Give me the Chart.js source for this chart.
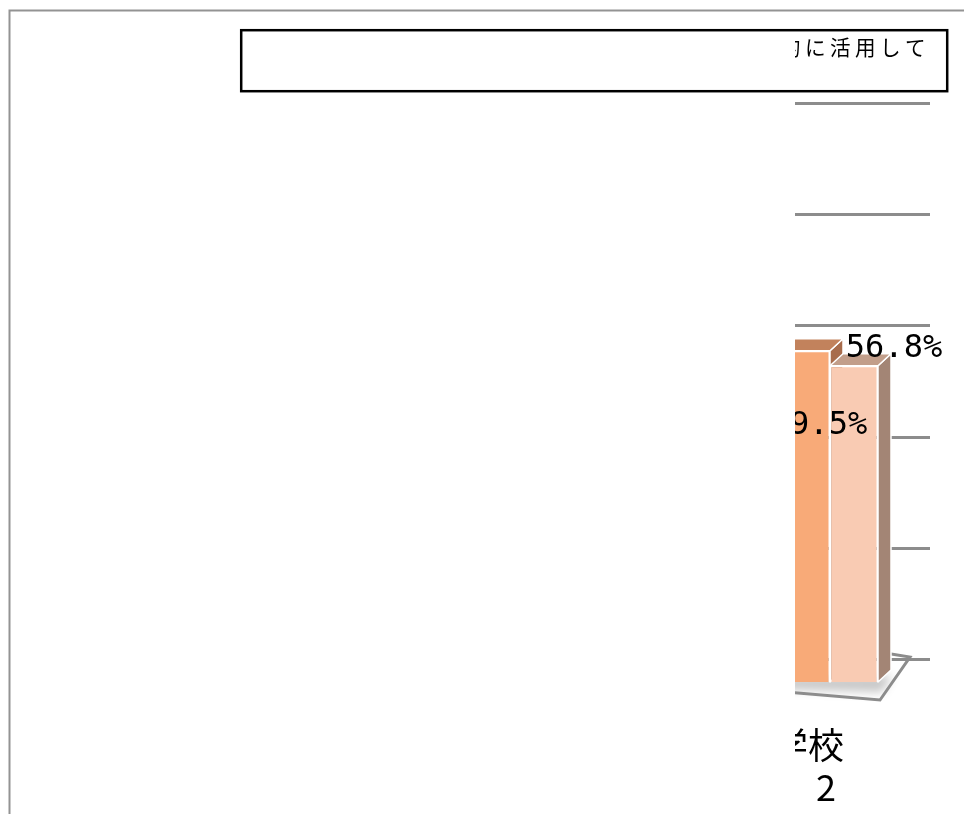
<!DOCTYPE html>
<html><head><meta charset="utf-8">
<script src="https://cdn.jsdelivr.net/npm/chart.js@4/dist/chart.umd.min.js"></script>
<style>html,body{margin:0;padding:0;background:#fff;overflow:hidden}#wrap{width:964px;height:814px;position:relative}</style>
</head><body><div id="wrap"><canvas id="c" width="964" height="814"></canvas></div>
<script>
// ---- data ----
const categories = [["学校", "　2"]];
const seriesNames = ["系列1", "系列2"];
const seriesA = [59.5];
const seriesB = [56.8];
const gridTicks = [0, 20, 40, 60, 80, 100];
const titleText = "効果的に活用して";

// ---- style ----
const clipLeft = 795;
const depth = { dx: 13, dy: -12 };

const scene = {
  id: 'scene',
  beforeDraw(chart) {
    const ctx = chart.ctx;
    const tb = chart.titleBlock;
    if (tb && !tb._ls) {
      const orig = tb.draw;
      tb.draw = function (a) { const c = this.ctx; c.save(); c.letterSpacing = '4.5px'; orig.call(this, a); c.restore(); };
      tb._ls = true;
    }
    ctx.save();
    ctx.beginPath();
    ctx.rect(clipLeft, 0, chart.width, chart.height);
    ctx.clip();
  },
  beforeDatasetsDraw(chart) {
    const ctx = chart.ctx;
    const y0 = chart.scales.y.getPixelForValue(0);
    const area = chart.chartArea;
    const lastMeta = chart.getDatasetMeta(chart.data.datasets.length - 1);
    const lb = lastMeta.data[0].getProps(['x', 'width'], true);
    const right = lb.x + lb.width / 2;
    // floor shadow
    ctx.save();
    ctx.filter = 'blur(5px)';
    ctx.fillStyle = 'rgba(0,0,0,0.22)';
    ctx.beginPath();
    ctx.moveTo(area.left, y0 - 4);
    ctx.lineTo(right + 14, y0 - 6);
    ctx.lineTo(right + 4, y0 + 10);
    ctx.lineTo(area.left, y0 + 6);
    ctx.closePath();
    ctx.fill();
    ctx.restore();
    // floor outline
    ctx.save();
    ctx.strokeStyle = '#8c8c8c';
    ctx.lineWidth = 3;
    ctx.beginPath();
    ctx.moveTo(area.left, y0 + 5);
    ctx.lineTo(right + 2, y0 + 18);
    ctx.lineTo(right + 32, y0 - 25);
    ctx.lineTo(right + 7, y0 - 29);
    ctx.stroke();
    ctx.restore();
    // 3D faces
    chart.data.datasets.forEach((ds, i) => {
      const meta = chart.getDatasetMeta(i);
      meta.data.forEach(bar => {
        const { x, y, base, width } = bar.getProps(['x', 'y', 'base', 'width'], true);
        const l = x - width / 2, r = x + width / 2;
        ctx.save();
        ctx.strokeStyle = '#ffffff';
        ctx.lineWidth = 1.5;
        ctx.lineJoin = 'round';
        ctx.fillStyle = ds.sideColor;
        ctx.beginPath();
        ctx.moveTo(r, y); ctx.lineTo(r + depth.dx, y + depth.dy);
        ctx.lineTo(r + depth.dx, base + depth.dy); ctx.lineTo(r, base);
        ctx.closePath(); ctx.fill(); ctx.stroke();
        ctx.fillStyle = ds.topColor;
        ctx.beginPath();
        ctx.moveTo(l, y); ctx.lineTo(r, y);
        ctx.lineTo(r + depth.dx, y + depth.dy); ctx.lineTo(l + depth.dx, y + depth.dy);
        ctx.closePath(); ctx.fill(); ctx.stroke();
        ctx.restore();
      });
    });
  },
  afterDatasetsDraw(chart) {
    const ctx = chart.ctx;
    ctx.save();
    ctx.font = '32px "DejaVu Sans Mono"';
    ctx.fillStyle = '#000';
    ctx.textAlign = 'center';
    ctx.textBaseline = 'middle';
    chart.data.datasets.forEach((ds, i) => {
      const meta = chart.getDatasetMeta(i);
      meta.data.forEach((bar, j) => {
        const { x, y } = bar.getProps(['x', 'y'], true);
        ctx.fillText(ds.data[j].toFixed(1) + '%', x + ds.labelDx, y + ds.labelDy);
      });
    });
    ctx.restore();
  },
  afterDraw(chart) {
    const ctx = chart.ctx;
    ctx.restore();
    ctx.save();
    ctx.strokeStyle = '#939393';
    ctx.lineWidth = 2;
    ctx.strokeRect(9.5, 10.5, 3000, 3000);
    ctx.strokeStyle = '#000';
    ctx.lineWidth = 2.5;
    ctx.strokeRect(241.2, 30.2, 706, 61);
    ctx.restore();
  }
};

new Chart(document.getElementById('c'), {
  type: 'bar',
  data: {
    labels: categories,
    datasets: [
      { label: seriesNames[0], data: seriesA, backgroundColor: '#F8AA78', borderColor: '#ffffff', borderWidth: 1.5,
        topColor: '#C2825C', sideColor: '#A86C4C', labelDx: 13, labelDy: 75 },
      { label: seriesNames[1], data: seriesB, backgroundColor: '#F9CBB3', borderColor: '#ffffff', borderWidth: 1.5,
        topColor: '#C29E8A', sideColor: '#A38575', labelDx: 40, labelDy: -17 }
    ]
  },
  options: {
    responsive: false,
    animation: false,
    events: [],
    layout: { padding: { left: 730, right: 34, top: 34, bottom: 5 } },
    datasets: { bar: { categoryPercentage: 0.48, barPercentage: 1 } },
    plugins: {
      legend: { display: false },
      tooltip: { enabled: false },
      title: {
        display: true, text: titleText, align: 'end', color: '#000',
        font: { family: '"Noto Sans CJK JP"', size: 21, weight: 'normal', lineHeight: 1.2 },
        padding: { top: 0, bottom: 43.8 }
      }
    },
    scales: {
      x: {
        grid: { display: false, drawTicks: false },
        border: { display: false },
        afterFit: s => { s.height = 127; },
        ticks: {
          color: '#000', padding: 42, labelOffset: -22, maxRotation: 0, autoSkip: false,
          font: { family: '"Noto Sans CJK JP"', size: 36, lineHeight: 1.18 }
        }
      },
      y: { display: false, min: 0, max: 104 },
      yg: {
        position: 'left', min: -3.95, max: 100,
        afterBuildTicks: s => { s.ticks = gridTicks.map(v => ({ value: v })); },
        grid: { color: '#8c8c8c', lineWidth: 3, drawTicks: false },
        border: { display: false },
        ticks: { display: false }
      }
    }
  },
  plugins: [scene]
});
</script>
</body></html>
